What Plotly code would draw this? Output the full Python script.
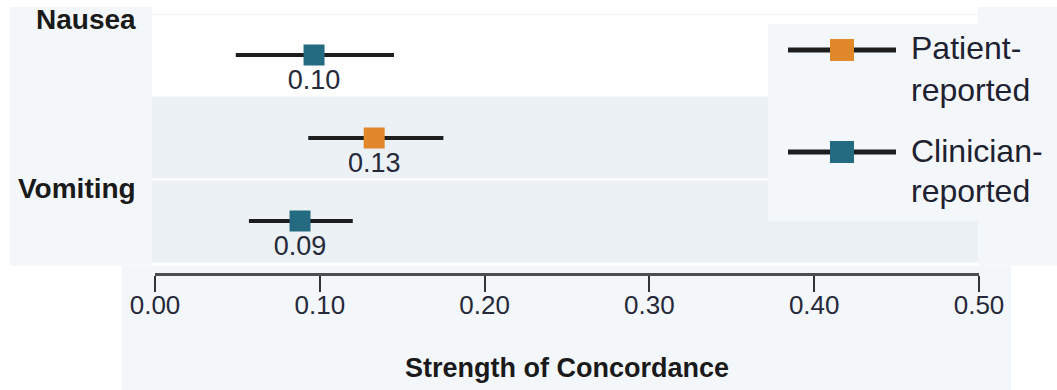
import plotly.graph_objects as go

# ---------------- data ----------------
row_symptom = ["Nausea", "Vomiting", "Vomiting"]
row_source = ["Clinician-reported", "Patient-reported", "Clinician-reported"]
row_index = [0, 1, 2]
estimate = [0.0965, 0.133, 0.088]
ci_low = [0.049, 0.093, 0.057]
ci_high = [0.145, 0.175, 0.120]
value_text = ["0.10", "0.13", "0.09"]

symptom_labels = ["Nausea", "Vomiting"]
tick_vals = [0.0, 0.1, 0.2, 0.3, 0.4, 0.5]
tick_text = ["0.00", "0.10", "0.20", "0.30", "0.40", "0.50"]
legend_names = ["Patient-reported", "Clinician-reported"]

colors = {"Patient-reported": "#e1882a", "Clinician-reported": "#246a80"}
LINE = "#1e1e1e"
PANEL = "#f4f7f9"
BAND = "#ecf1f5"
FONT = "Liberation Sans, Arial, sans-serif"

W, H = 1057, 390
L, R, T, B = 155, 78, 14, 117
PW, PH = W - L - R, H - T - B


def px(x):
    return (x - L) / PW


def py(y):
    return (H - B - y) / PH


fig = go.Figure()

for src in legend_names:
    idx = [i for i, s in enumerate(row_source) if s == src]
    xs = [estimate[i] for i in idx]
    ys = [row_index[i] for i in idx]
    fig.add_trace(go.Scatter(
        x=xs, y=ys, mode="markers+text",
        text=[value_text[i] for i in idx],
        textposition="bottom center",
        textfont=dict(family=FONT, size=27, color="#26293a"),
        marker=dict(symbol="square", size=21, color=colors[src], line=dict(width=0)),
        error_x=dict(type="data", symmetric=False,
                     array=[ci_high[i] - estimate[i] for i in idx],
                     arrayminus=[estimate[i] - ci_low[i] for i in idx],
                     color=LINE, thickness=4, width=0),
        name=src, showlegend=False, cliponaxis=False, hoverinfo="skip",
    ))

shapes = []
# outer panels
shapes.append(dict(type="rect", xref="paper", yref="paper", x0=px(10), x1=px(152), y0=py(265.5), y1=py(7),
                   fillcolor=PANEL, line=dict(width=0), layer="below"))
shapes.append(dict(type="rect", xref="paper", yref="paper", x0=px(978), x1=px(1057), y0=py(265.5), y1=py(7),
                   fillcolor=PANEL, line=dict(width=0), layer="below"))
shapes.append(dict(type="rect", xref="paper", yref="paper", x0=px(122), x1=px(1011), y0=py(390), y1=py(266),
                   fillcolor=PANEL, line=dict(width=0), layer="below"))
# row bands
for r in row_index:
    fill = "#ffffff" if r == 0 else BAND
    shapes.append(dict(type="rect", xref="paper", yref="y", x0=px(152), x1=px(978),
                       y0=r - 0.5, y1=r + 0.5, fillcolor=fill, line=dict(width=0), layer="below"))
shapes.append(dict(type="line", xref="paper", yref="y", x0=px(152), x1=px(978), y0=1.5, y1=1.5,
                   line=dict(color="#ffffff", width=2), layer="below"))
shapes.append(dict(type="line", xref="paper", yref="y", x0=px(152), x1=px(978), y0=-0.5, y1=-0.5,
                   line=dict(color="#e4ebf1", width=2), layer="below"))
# legend box
shapes.append(dict(type="rect", xref="paper", yref="paper", x0=px(768), x1=px(980), y0=py(221), y1=py(24),
                   fillcolor=PANEL, line=dict(width=0), layer="below"))

annotations = []
legend_y = [50, 152]
legend_text_y = [(48.5, 89.5), (151, 190.5)]
for name, ly, (t1, t2) in zip(legend_names, legend_y, legend_text_y):
    shapes.append(dict(type="line", xref="paper", yref="paper", x0=px(788), x1=px(896), y0=py(ly), y1=py(ly),
                       line=dict(color=LINE, width=5)))
    shapes.append(dict(type="rect", xref="paper", yref="paper", x0=px(830), x1=px(854),
                       y0=py(ly + 11), y1=py(ly - 11), fillcolor=colors[name], line=dict(width=0)))
    first, second = name.split("-")
    for txt, ty in ((first + "-", t1), (second, t2)):
        annotations.append(dict(xref="paper", yref="paper", x=px(909), y=py(ty), text=txt,
                                xanchor="left", yanchor="middle", showarrow=False,
                                font=dict(family=FONT, size=32, color="#1d2130")))

label_y = [20, 188]
for lab, ly in zip(symptom_labels, label_y):
    annotations.append(dict(xref="paper", yref="paper", x=px(138), y=py(ly), text="<b>%s</b>" % lab,
                            xanchor="right", yanchor="middle", showarrow=False,
                            font=dict(family=FONT, size=28, color="#1a1a1a")))

fig.update_layout(
    width=W, height=H,
    margin=dict(l=L, r=R, t=T, b=B),
    paper_bgcolor="#ffffff", plot_bgcolor="rgba(0,0,0,0)",
    shapes=shapes, annotations=annotations, showlegend=False,
    hovermode=False,
    xaxis=dict(range=[0, 0.5], tickvals=tick_vals, ticktext=tick_text,
               showgrid=False, zeroline=False, showline=True, linecolor="#4d4d4d", linewidth=3,
               ticks="outside", ticklen=16, tickwidth=2, tickcolor="#333333",
               ticklabelstandoff=-9, fixedrange=True,
               tickfont=dict(family=FONT, size=26, color="#26293a"),
               title=dict(text="<b>Strength of Concordance</b>", standoff=39,
                          font=dict(family=FONT, size=27, color="#1a1a1a"))),
    yaxis=dict(range=[218 / 83, -41 / 83], fixedrange=True,
               showgrid=False, zeroline=False, showline=False, showticklabels=False, ticks=""),
)

fig.write_html("out.html", config={"displayModeBar": False, "staticPlot": True},
               post_script="document.body.style.margin='0';document.body.style.overflow='hidden';")
